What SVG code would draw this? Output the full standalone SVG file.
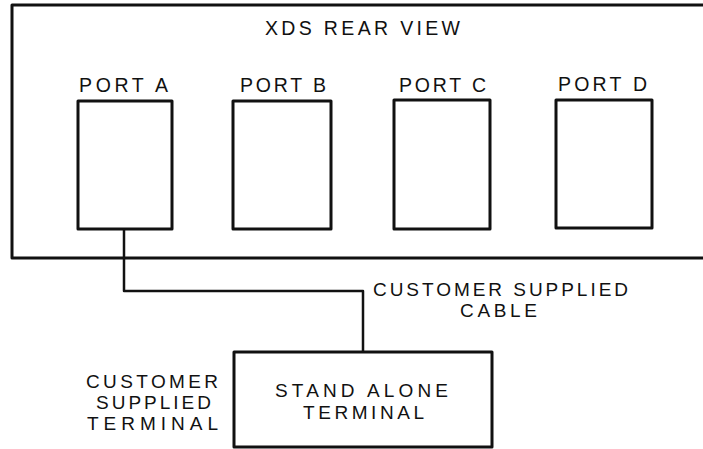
<svg xmlns="http://www.w3.org/2000/svg" width="703" height="449" viewBox="0 0 703 449">
<style>
  .box { fill: none; stroke: #111; stroke-width: 3; stroke-linejoin: round; }
  .wire { fill: none; stroke: #111; stroke-width: 2.5; stroke-linejoin: round; }
  .t { font-family: "Liberation Sans", Arial, sans-serif; fill: #111; }
  .s { font-size: 19.5px; }
  .l { font-size: 19px; }
</style>
<rect width="703" height="449" fill="#fff"/>
<g id="rear-view">
  <rect class="box" x="12" y="5" width="700" height="253"/>
  <text class="t s" x="265" y="35" textLength="195" lengthAdjust="spacing">XDS REAR VIEW</text>
</g>
<g id="port-a">
  <rect class="box" x="78" y="101" width="94" height="128"/>
  <text class="t s" x="79" y="92" textLength="89" lengthAdjust="spacing">PORT A</text>
</g>
<g id="port-b">
  <rect class="box" x="233" y="101" width="98" height="128"/>
  <text class="t s" x="240" y="92" textLength="86" lengthAdjust="spacing">PORT B</text>
</g>
<g id="port-c">
  <rect class="box" x="394" y="100" width="96" height="129"/>
  <text class="t s" x="399" y="92" textLength="87" lengthAdjust="spacing">PORT C</text>
</g>
<g id="port-d">
  <rect class="box" x="556" y="100" width="96" height="128"/>
  <text class="t s" x="558" y="91" textLength="89" lengthAdjust="spacing">PORT D</text>
</g>
<g id="terminal">
  <rect class="box" x="234" y="352" width="258" height="95"/>
  <text class="t l"><tspan x="275" y="397" textLength="173" lengthAdjust="spacing">STAND ALONE</tspan><tspan x="303" y="419" textLength="121" lengthAdjust="spacing">TERMINAL</tspan></text>
</g>
<g id="terminal-label">
  <text class="t l"><tspan x="86" y="388" textLength="132" lengthAdjust="spacing">CUSTOMER</tspan><tspan x="96" y="409" textLength="115" lengthAdjust="spacing">SUPPLIED</tspan><tspan x="87" y="430" textLength="131" lengthAdjust="spacing">TERMINAL</tspan></text>
</g>
<g id="connectors">
  <polyline class="wire" points="124,229 124,291 363,291 363,352"/>
  <text class="t l"><tspan x="373" y="296" textLength="255" lengthAdjust="spacing">CUSTOMER SUPPLIED</tspan><tspan x="460" y="317" textLength="77" lengthAdjust="spacing">CABLE</tspan></text>
</g>
</svg>
